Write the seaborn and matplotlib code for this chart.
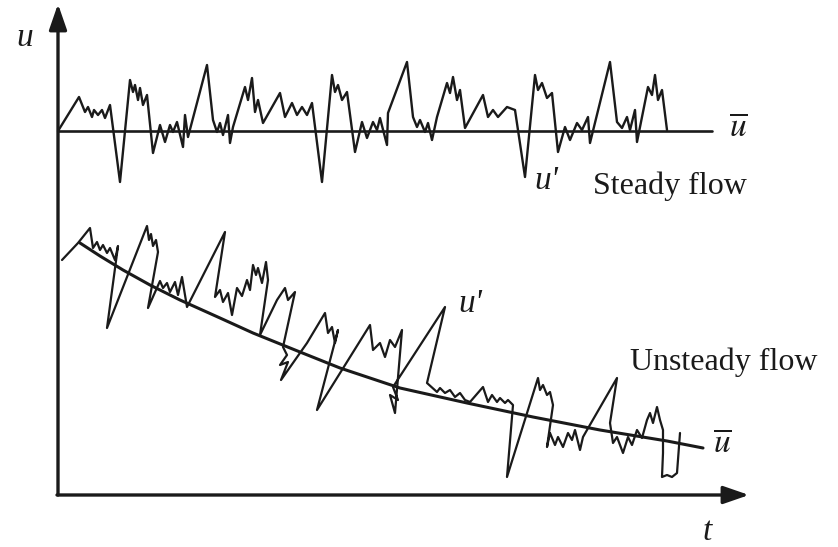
import matplotlib
matplotlib.use("Agg")
import matplotlib.pyplot as plt
import seaborn as sns
import pandas as pd

# ---- data (image pixel coordinates: x to the right, y downward) ----
steady_t = [58, 79, 85, 88, 92, 94, 98, 102, 105, 110, 120, 130, 133, 135, 138, 140, 143, 147,
            153, 160, 165, 170, 173, 177, 183, 185, 188, 207, 213, 217, 220, 223, 228, 230, 233,
            245, 248, 252, 255, 258, 263, 280, 285, 292, 297, 302, 307, 312, 322, 332, 335, 338,
            342, 347, 355, 362, 367, 373, 377, 380, 387, 388, 407, 413, 417, 420, 425, 428, 432,
            437, 447, 450, 453, 457, 460, 465, 483, 488, 493, 498, 507, 515, 525, 535, 538, 542,
            547, 552, 558, 565, 570, 577, 582, 588, 590, 610, 617, 622, 627, 630, 635, 637, 648,
            652, 655, 658, 662, 667]
steady_u = [131, 97, 112, 107, 117, 110, 115, 110, 118, 105, 182, 80, 92, 85, 100, 88, 105, 95,
            153, 125, 142, 125, 132, 122, 147, 115, 137, 65, 120, 132, 123, 135, 115, 143, 127,
            87, 100, 78, 112, 100, 123, 93, 117, 103, 115, 107, 115, 103, 182, 75, 92, 85,
            100, 92, 152, 122, 138, 122, 130, 118, 145, 113, 62, 117, 127, 120, 132, 123, 140,
            117, 83, 93, 77, 100, 90, 128, 95, 117, 110, 117, 107, 110, 177, 75, 90, 83,
            98, 93, 152, 127, 140, 123, 130, 117, 143, 62, 122, 128, 117, 130, 110, 142, 87,
            95, 75, 100, 90, 130]
steady_mean_t = [58, 712]
steady_mean_u = [131, 131]

unsteady_t = [62, 78, 90, 93, 97, 100, 103, 107, 110, 115, 118, 107, 147, 149, 151, 153, 156, 158,
              148, 160, 163, 167, 170, 175, 178, 182, 187, 225, 215, 220, 223, 228, 232, 237, 242,
              247, 250, 253, 256, 258, 262, 266, 268, 260, 277, 285, 288, 295, 283, 287, 280, 288,
              281, 307, 325, 328, 332, 335, 338, 317, 370, 373, 380, 385, 390, 395, 402, 395, 390,
              398, 393, 445, 427, 437, 440, 445, 450, 455, 460, 465, 470, 483, 488, 492, 497, 500,
              505, 508, 513, 507, 538, 540, 543, 547, 550, 553, 547, 550, 555, 558, 563, 568, 572,
              575, 580, 583, 587, 617, 610, 613, 617, 620, 623, 628, 632, 637, 642, 647, 650, 653,
              657, 660, 663, 663, 662, 667, 672, 677, 680]
unsteady_u = [260, 243, 228, 248, 242, 250, 245, 253, 248, 260, 246, 328, 226, 240, 234, 246, 240, 252,
              308, 281, 288, 283, 292, 282, 295, 277, 307, 232, 297, 290, 302, 293, 315, 288, 296,
              280, 290, 265, 275, 268, 283, 262, 280, 335, 300, 288, 300, 292, 347, 355, 365, 362,
              380, 343, 313, 333, 327, 343, 330, 410, 325, 350, 343, 357, 340, 347, 330, 413, 395,
              400, 387, 307, 383, 392, 388, 393, 390, 397, 393, 400, 402, 387, 402, 395, 402, 398,
              403, 400, 405, 477, 378, 390, 385, 395, 392, 405, 447, 433, 445, 437, 447, 433, 440,
              430, 450, 437, 430, 378, 423, 443, 437, 445, 453, 437, 445, 430, 438, 420, 413, 423,
              407, 420, 430, 453, 477, 475, 477, 473, 433]
unsteady_mean_t = [80, 100, 123, 150, 180, 220, 253, 300, 340, 400, 467, 533, 600, 667, 703]
unsteady_mean_u = [243, 256, 270, 285, 300, 318, 333, 352, 368, 388, 403, 417, 430, 441, 448]

INK = "#1a1a1a"

sns.set_theme(style="white")
plt.rcParams["mathtext.fontset"] = "stix"
plt.rcParams["font.family"] = ["Liberation Serif", "DejaVu Serif"]

fig = plt.figure(figsize=(8.38, 5.47), dpi=100)
ax = fig.add_axes([0, 0, 1, 1])

for t, u, lw in [(steady_t, steady_u, 1.7), (steady_mean_t, steady_mean_u, 1.9),
                 (unsteady_t, unsteady_u, 1.6), (unsteady_mean_t, unsteady_mean_u, 2.2)]:
    df = pd.DataFrame({"t": t, "u": u})
    sns.lineplot(data=df, x="t", y="u", sort=False, estimator=None, color=INK, lw=lw, ax=ax)

ax.set_xlim(0, 838)
ax.set_ylim(547, 0)
ax.axis("off")

# coordinate axes with arrow heads
arrow = dict(arrowstyle="-|>,head_length=1.3,head_width=0.45", lw=2.4, color=INK,
             shrinkA=0, shrinkB=0)
ax.annotate("", xy=(58, 4), xytext=(58, 495), arrowprops=arrow)
ax.annotate("", xy=(749, 495), xytext=(57, 495), arrowprops=arrow)

# labels
ital = dict(fontsize=24, color=INK, ha="center", va="center", fontstyle="italic")
ax.text(25, 38, "u", **ital)
ax.text(707, 532, "t", **ital)
ax.text(546, 181, "u'", **ital)
ax.text(470, 304, "u'", **ital)
ax.text(738, 128, r"$\overline{u}$", fontsize=24, color=INK, ha="center", va="center")
ax.text(722, 444, r"$\overline{u}$", fontsize=24, color=INK, ha="center", va="center")
ax.text(593, 186, "Steady flow", fontsize=23, color=INK, ha="left", va="center")
ax.text(630, 362, "Unsteady flow", fontsize=23, color=INK, ha="left", va="center")

fig.savefig("out.png", dpi=100)
